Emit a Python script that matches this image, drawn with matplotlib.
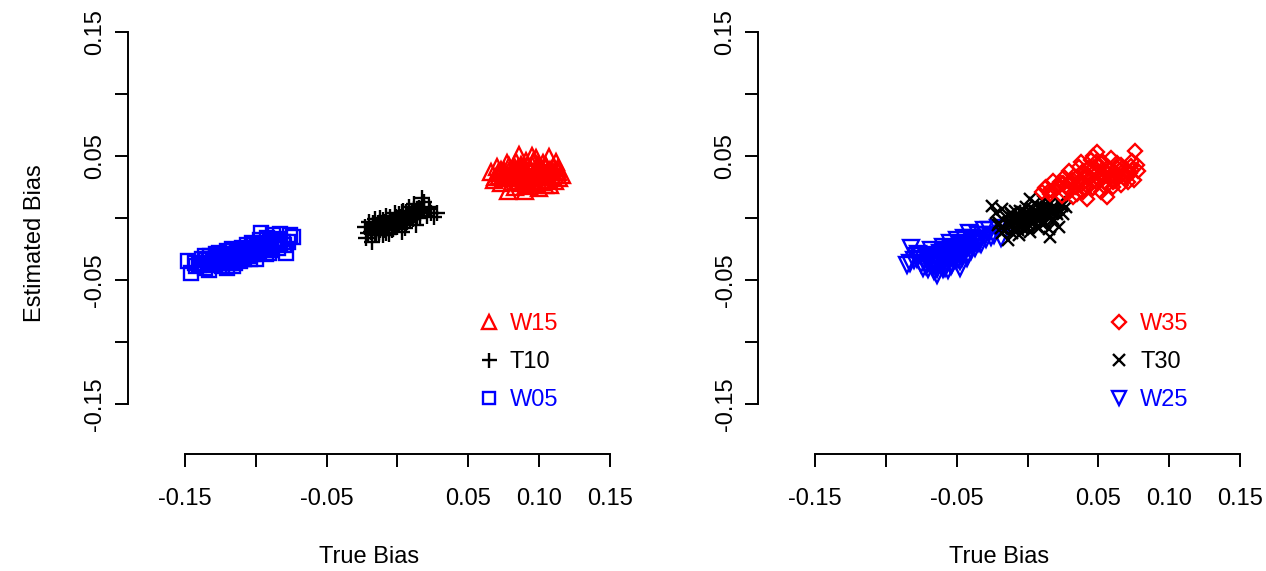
import matplotlib
matplotlib.use("Agg")
import matplotlib.pyplot as plt

plt.rcParams['font.family'] = ['Liberation Sans', 'DejaVu Sans']

# left panel: W05 (squares), T10 (plus), W15 (triangles)
w05_x = [-0.148, -0.146, -0.143, -0.140, -0.138, -0.136, -0.134, -0.132, -0.131, -0.129,
         -0.128, -0.126, -0.125, -0.124, -0.122, -0.121, -0.120, -0.119, -0.118, -0.117,
         -0.116, -0.115, -0.114, -0.113, -0.112, -0.111, -0.110, -0.109, -0.108, -0.107,
         -0.106, -0.105, -0.104, -0.103, -0.102, -0.101, -0.100, -0.099, -0.098, -0.097,
         -0.096, -0.095, -0.094, -0.093, -0.092, -0.091, -0.090, -0.089, -0.088, -0.087,
         -0.085, -0.084, -0.083, -0.081, -0.079, -0.077, -0.076, -0.074, -0.120, -0.133,
         -0.139, -0.135, -0.130, -0.127, -0.123, -0.119, -0.116, -0.113, -0.110, -0.108,
         -0.105, -0.103, -0.100, -0.098, -0.095, -0.092, -0.089, -0.086, -0.117, -0.111,
         -0.104, -0.097, -0.124, -0.129, -0.091,
         -0.142, -0.137, -0.133, -0.128, -0.125, -0.121, -0.118, -0.114, -0.112, -0.109,
         -0.106, -0.102, -0.099, -0.096, -0.093, -0.090, -0.087, -0.083, -0.080, -0.126,
         -0.115, -0.107, -0.101, -0.094, -0.136]
w05_y = [-0.035, -0.044, -0.036, -0.038, -0.033, -0.040, -0.036, -0.031, -0.038, -0.034,
         -0.029, -0.036, -0.032, -0.039, -0.030, -0.034, -0.027, -0.036, -0.031, -0.025,
         -0.039, -0.029, -0.033, -0.026, -0.031, -0.035, -0.024, -0.029, -0.033, -0.027,
         -0.022, -0.031, -0.026, -0.020, -0.029, -0.024, -0.033, -0.021, -0.027, -0.018,
         -0.012, -0.025, -0.020, -0.029, -0.016, -0.023, -0.019, -0.026, -0.014, -0.021,
         -0.017, -0.024, -0.013, -0.019, -0.028, -0.019, -0.014, -0.015, -0.040, -0.042,
         -0.037, -0.034, -0.035, -0.031, -0.033, -0.030, -0.032, -0.028, -0.030, -0.026,
         -0.028, -0.024, -0.027, -0.023, -0.022, -0.021, -0.022, -0.019, -0.035, -0.027,
         -0.033, -0.025, -0.036, -0.037, -0.028,
         -0.039, -0.037, -0.033, -0.032, -0.035, -0.029, -0.034, -0.030, -0.026, -0.032,
         -0.025, -0.027, -0.025, -0.021, -0.024, -0.023, -0.018, -0.020, -0.022, -0.028,
         -0.036, -0.030, -0.021, -0.026, -0.031]

t10_x = [-0.023, -0.022, -0.020, -0.019, -0.018, -0.017, -0.016, -0.015, -0.014, -0.013,
         -0.012, -0.011, -0.010, -0.009, -0.008, -0.007, -0.006, -0.005, -0.004, -0.003,
         -0.002, -0.001, 0.000, 0.001, 0.002, 0.003, 0.004, 0.005, 0.006, 0.007,
         0.008, 0.009, 0.010, 0.011, 0.012, 0.013, 0.014, 0.015, 0.016, 0.018,
         0.019, 0.021, 0.022, 0.024, 0.026, 0.028, -0.010, 0.005, 0.017,
         -0.018, -0.014, -0.011, -0.008, -0.005, -0.003, 0.000, 0.002, 0.004, 0.007,
         0.009, 0.012, 0.014, -0.016, -0.006, 0.001, 0.008, 0.011, -0.012, -0.001,
         -0.021, -0.017, -0.013, -0.009, -0.006, -0.002, 0.001, 0.003, 0.006, 0.010,
         0.013, 0.016, 0.019, 0.023, -0.015, -0.004, 0.003, 0.012, -0.008, 0.007]
t10_y = [-0.007, -0.016, -0.003, -0.011, -0.019, -0.006, -0.001, -0.010, -0.004, -0.013,
         0.000, -0.007, -0.002, -0.010, 0.002, -0.005, -0.013, 0.001, -0.004, -0.009,
         0.004, -0.002, -0.007, 0.003, -0.001, -0.011, 0.006, 0.000, -0.005, 0.003,
         0.009, -0.002, 0.005, 0.001, 0.011, -0.006, 0.004, 0.008, 0.000, 0.006,
         0.013, 0.002, 0.009, 0.004, 0.001, 0.004, -0.014, -0.008, 0.016,
         -0.009, -0.008, -0.004, -0.006, -0.003, -0.006, -0.002, 0.001, -0.003, 0.000,
         0.002, 0.003, 0.001, -0.013, -0.009, -0.004, 0.005, -0.001, -0.010, 0.001,
         -0.012, -0.004, -0.011, -0.003, -0.008, -0.005, 0.000, -0.006, 0.005, 0.002,
         0.006, 0.004, 0.008, 0.007, -0.014, -0.010, 0.005, 0.007, -0.012, -0.003]

w15_x = [0.066, 0.068, 0.070, 0.072, 0.073, 0.075, 0.076, 0.078, 0.079, 0.080,
         0.081, 0.082, 0.083, 0.084, 0.085, 0.086, 0.087, 0.088, 0.089, 0.090,
         0.091, 0.092, 0.093, 0.094, 0.095, 0.096, 0.097, 0.098, 0.099, 0.100,
         0.101, 0.102, 0.103, 0.104, 0.105, 0.106, 0.107, 0.108, 0.109, 0.110,
         0.111, 0.113, 0.114, 0.116, 0.090, 0.077, 0.095, 0.112, 0.085, 0.100,
         0.071, 0.074, 0.079, 0.083, 0.086, 0.088, 0.091, 0.093, 0.096, 0.098,
         0.101, 0.103, 0.106, 0.108, 0.111, 0.087, 0.094, 0.099, 0.080, 0.105,
         0.069, 0.073, 0.077, 0.081, 0.084, 0.087, 0.089, 0.092, 0.095, 0.097,
         0.100, 0.102, 0.105, 0.107, 0.110, 0.113, 0.082, 0.091, 0.104, 0.096]
w15_y = [0.037, 0.031, 0.041, 0.034, 0.028, 0.038, 0.032, 0.022, 0.042, 0.035,
         0.029, 0.039, 0.025, 0.045, 0.033, 0.051, 0.037, 0.028, 0.041, 0.031,
         0.046, 0.035, 0.026, 0.039, 0.043, 0.030, 0.036, 0.048, 0.033, 0.024,
         0.040, 0.029, 0.044, 0.035, 0.031, 0.038, 0.049, 0.027, 0.034, 0.041,
         0.030, 0.037, 0.032, 0.035, 0.022, 0.044, 0.050, 0.045, 0.040, 0.037,
         0.036, 0.033, 0.038, 0.036, 0.030, 0.034, 0.038, 0.032, 0.035, 0.040,
         0.033, 0.037, 0.034, 0.039, 0.035, 0.043, 0.029, 0.043, 0.032, 0.042,
         0.033, 0.039, 0.035, 0.032, 0.037, 0.040, 0.030, 0.042, 0.033, 0.028,
         0.039, 0.034, 0.041, 0.031, 0.037, 0.040, 0.042, 0.027, 0.027, 0.045]

# right panel: W25 (down triangles), T30 (x), W35 (diamonds)
w25_x = [-0.085, -0.082, -0.080, -0.077, -0.074, -0.072, -0.070, -0.068, -0.066, -0.064,
         -0.063, -0.062, -0.061, -0.060, -0.059, -0.058, -0.057, -0.056, -0.055, -0.054,
         -0.053, -0.052, -0.051, -0.050, -0.049, -0.048, -0.047, -0.046, -0.045, -0.044,
         -0.043, -0.042, -0.041, -0.040, -0.038, -0.037, -0.035, -0.033, -0.031, -0.029,
         -0.027, -0.024, -0.021, -0.019, -0.056, -0.067, -0.048,
         -0.078, -0.073, -0.069, -0.065, -0.062, -0.059, -0.056, -0.053, -0.050, -0.047,
         -0.044, -0.041, -0.039, -0.036, -0.060, -0.054, -0.049, -0.045, -0.070, -0.065,
         -0.083, -0.079, -0.075, -0.071, -0.067, -0.063, -0.060, -0.057, -0.054, -0.051,
         -0.048, -0.045, -0.042, -0.039, -0.034, -0.030, -0.026, -0.064, -0.058, -0.052,
         -0.046, -0.072]
w25_y = [-0.038, -0.024, -0.034, -0.029, -0.040, -0.031, -0.036, -0.026, -0.043, -0.046,
         -0.033, -0.028, -0.038, -0.023, -0.031, -0.040, -0.026, -0.034, -0.020, -0.029,
         -0.037, -0.024, -0.031, -0.018, -0.027, -0.035, -0.022, -0.029, -0.016, -0.025,
         -0.032, -0.020, -0.012, -0.027, -0.018, -0.024, -0.014, -0.021, -0.010, -0.017,
         -0.010, -0.014, -0.008, -0.016, -0.042, -0.035, -0.040,
         -0.033, -0.034, -0.030, -0.036, -0.030, -0.035, -0.029, -0.032, -0.026, -0.031,
         -0.021, -0.023, -0.021, -0.019, -0.041, -0.039, -0.033, -0.028, -0.041, -0.039,
         -0.036, -0.031, -0.037, -0.032, -0.038, -0.035, -0.027, -0.036, -0.025, -0.034,
         -0.029, -0.023, -0.029, -0.016, -0.020, -0.014, -0.015, -0.041, -0.033, -0.030,
         -0.032, -0.039]

t30_x = [-0.025, -0.022, -0.020, -0.018, -0.016, -0.015, -0.014, -0.013, -0.012, -0.011,
         -0.010, -0.009, -0.008, -0.007, -0.006, -0.005, -0.004, -0.003, -0.002, -0.001,
         0.000, 0.001, 0.002, 0.003, 0.004, 0.005, 0.006, 0.007, 0.008, 0.009,
         0.010, 0.011, 0.012, 0.013, 0.014, 0.015, 0.016, 0.017, 0.018, 0.020,
         0.022, 0.023, 0.025, 0.027, 0.016, -0.019, 0.002,
         -0.017, -0.013, -0.009, -0.006, -0.003, 0.000, 0.003, 0.006, 0.009, 0.012,
         0.015, 0.018, 0.021, -0.011, -0.001, 0.005, 0.011, 0.019, -0.007, 0.008,
         -0.021, -0.018, -0.014, -0.010, -0.007, -0.004, -0.001, 0.002, 0.005, 0.008,
         0.011, 0.014, 0.017, 0.020, 0.024, -0.012, 0.000, 0.010, 0.018, -0.005]
t30_y = [0.010, 0.004, -0.004, 0.007, -0.010, 0.001, -0.018, -0.006, 0.004, -0.012,
         -0.002, 0.006, -0.008, 0.001, -0.014, -0.004, 0.005, -0.009, 0.000, 0.009,
         -0.005, 0.003, -0.011, 0.007, -0.002, 0.012, 0.002, -0.007, 0.008, -0.001,
         0.005, 0.014, -0.004, 0.009, 0.002, -0.009, 0.011, 0.004, -0.003, 0.007,
         -0.007, 0.013, 0.003, 0.009, -0.015, -0.008, 0.015,
         -0.002, -0.003, -0.004, -0.002, -0.004, 0.001, 0.002, -0.001, 0.003, 0.004,
         0.002, 0.006, 0.003, 0.000, 0.004, 0.006, 0.009, 0.010, -0.010, -0.008,
         -0.006, -0.012, -0.004, -0.009, -0.001, -0.007, 0.002, -0.003, 0.004, 0.000,
         0.007, 0.003, 0.008, 0.005, 0.010, 0.003, -0.008, -0.005, -0.001, 0.006]

w35_x = [0.010, 0.013, 0.016, 0.018, 0.020, 0.022, 0.024, 0.026, 0.028, 0.029,
         0.030, 0.032, 0.033, 0.034, 0.036, 0.037, 0.038, 0.039, 0.040, 0.041,
         0.042, 0.043, 0.044, 0.045, 0.046, 0.047, 0.048, 0.049, 0.050, 0.051,
         0.052, 0.053, 0.054, 0.055, 0.056, 0.057, 0.058, 0.059, 0.060, 0.061,
         0.062, 0.063, 0.064, 0.066, 0.067, 0.068, 0.070, 0.071, 0.073, 0.075,
         0.076, 0.078, 0.074, 0.046, 0.035,
         0.015, 0.021, 0.025, 0.031, 0.035, 0.038, 0.042, 0.046, 0.050, 0.053,
         0.057, 0.061, 0.065, 0.069, 0.072, 0.027, 0.040, 0.055, 0.063, 0.048,
         0.012, 0.017, 0.023, 0.027, 0.032, 0.036, 0.039, 0.043, 0.047, 0.051,
         0.054, 0.058, 0.062, 0.066, 0.070, 0.074, 0.077, 0.030, 0.044, 0.052,
         0.060, 0.068]
w35_y = [0.021, 0.025, 0.019, 0.030, 0.023, 0.027, 0.018, 0.033, 0.024, 0.038,
         0.029, 0.017, 0.034, 0.025, 0.041, 0.030, 0.045, 0.021, 0.036, 0.027,
         0.015, 0.040, 0.032, 0.047, 0.024, 0.037, 0.029, 0.053, 0.042, 0.034,
         0.021, 0.045, 0.038, 0.028, 0.017, 0.041, 0.033, 0.048, 0.025, 0.037,
         0.030, 0.044, 0.035, 0.027, 0.040, 0.032, 0.037, 0.029, 0.042, 0.031,
         0.054, 0.038, 0.046, 0.050, 0.019,
         0.022, 0.026, 0.028, 0.030, 0.033, 0.027, 0.035, 0.030, 0.037, 0.032,
         0.036, 0.034, 0.039, 0.035, 0.036, 0.020, 0.023, 0.025, 0.040, 0.045,
         0.024, 0.022, 0.029, 0.026, 0.031, 0.029, 0.038, 0.034, 0.041, 0.031,
         0.035, 0.039, 0.033, 0.043, 0.033, 0.039, 0.043, 0.022, 0.027, 0.044,
         0.029, 0.036]

ticks = [-0.15, -0.10, -0.05, 0.00, 0.05, 0.10, 0.15]
xtick_labels = ['-0.15', '', '-0.05', '', '0.05', '0.10', '0.15']
ytick_labels = ['-0.15', '', '-0.05', '', '0.05', '', '0.15']

FS = 17
LW = 1.7

fig = plt.figure(figsize=(12.66, 5.71), dpi=100)
ax1 = fig.add_axes([0.1013, 0.2056, 0.3805, 0.7384])
ax2 = fig.add_axes([0.599, 0.2056, 0.3805, 0.7384])


def style_axes(ax):
    ax.set_xlim(-0.19, 0.15)
    ax.set_ylim(-0.19, 0.15)
    for s in ['top', 'right']:
        ax.spines[s].set_visible(False)
    ax.spines['left'].set_bounds(-0.15, 0.15)
    ax.spines['bottom'].set_bounds(-0.15, 0.15)
    ax.spines['left'].set_linewidth(1.4)
    ax.spines['bottom'].set_linewidth(1.4)
    ax.set_xticks(ticks)
    ax.set_xticklabels(xtick_labels)
    ax.set_yticks(ticks)
    ax.set_yticklabels(ytick_labels, rotation=90, va='center')
    ax.tick_params(axis='both', direction='out', length=9.7, width=1.4, labelsize=FS)
    ax.tick_params(axis='x', pad=15)
    ax.tick_params(axis='y', pad=6)
    ax.set_xlabel('True Bias', fontsize=FS, labelpad=26)


def add_legend(ax, handles, labels, colors):
    leg = ax.legend(handles, labels, loc='upper left', bbox_to_anchor=(0.0561, -0.0766),
                    bbox_transform=ax.transData, frameon=False, borderpad=0,
                    borderaxespad=0, handlelength=1.0, handletextpad=0.4,
                    labelspacing=0.68, fontsize=FS, markerscale=0.9)
    for t, c in zip(leg.get_texts(), colors):
        t.set_color(c)


style_axes(ax1)
style_axes(ax2)
ax1.set_ylabel('Estimated Bias', fontsize=FS, labelpad=28)

kw = dict(linestyle='none', mfc='none', mew=LW, clip_on=False)
h05, = ax1.plot(w05_x, w05_y, marker='s', ms=9.5, mec='blue', **kw)
h10, = ax1.plot(t10_x, t10_y, marker='+', ms=12, mec='black', **kw)
h15, = ax1.plot(w15_x, w15_y, marker='^', ms=11, mec='red', **kw)
add_legend(ax1, [h15, h10, h05], ['W15', 'T10', 'W05'], ['red', 'black', 'blue'])

h25, = ax2.plot(w25_x, w25_y, marker='v', ms=11, mec='blue', **kw)
h30, = ax2.plot(t30_x, t30_y, marker='x', ms=9, mec='black', **kw)
h35, = ax2.plot(w35_x, w35_y, marker='D', ms=7.5, mec='red', **kw)
add_legend(ax2, [h35, h30, h25], ['W35', 'T30', 'W25'], ['red', 'black', 'blue'])

fig.savefig('out.png', dpi=100)
